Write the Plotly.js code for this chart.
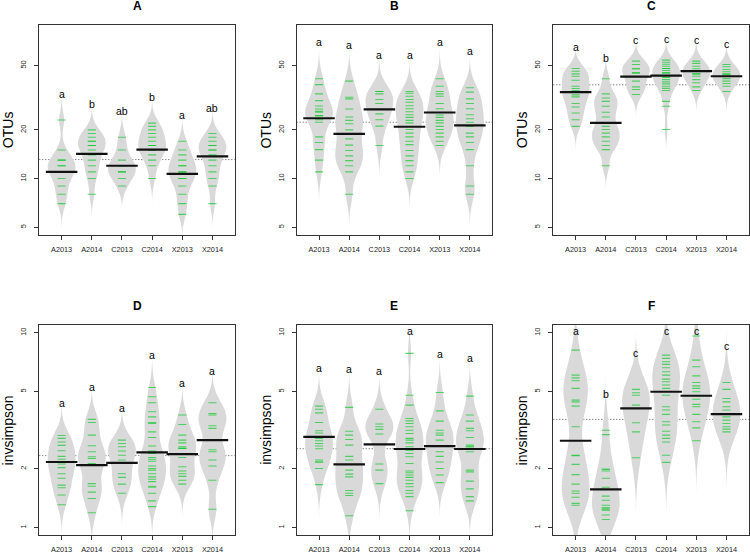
<!DOCTYPE html>
<html>
<head>
<meta charset="utf-8">
<script src="https://cdn.plot.ly/plotly-3.0.1.min.js"></script>
<style>html,body{margin:0;padding:0;background:#fff;}#chart{width:750px;height:553px;}</style>
</head>
<body>
<div id="chart"></div>
<script>
// ---------------- DATA ----------------
const categories = ["A2013", "A2014", "C2013", "C2014", "X2013", "X2014"];

// Panel A (OTUs)
const otusA = [
  [7, 8, 9, 10, 11, 11, 12, 12, 13, 13, 15, 23],
  [8, 10, 11, 12, 13, 14, 15, 16, 16, 17, 17, 18, 19, 20],
  [9, 10, 11, 11, 12, 12, 13, 15, 18],
  [10, 12, 13, 14, 15, 15, 16, 16, 17, 18, 19, 20, 21, 22],
  [6, 7, 8, 9, 10, 10, 11, 11, 12, 12, 13, 14, 15, 17],
  [7, 9, 10, 11, 12, 13, 14, 15, 15, 16, 16, 17, 18, 19]
];
const meansA = [11.0, 14.2, 12.0, 15.1, 10.7, 13.7];
const overallA = 13.1;
const lettersA = ["a", "b", "ab", "b", "a", "ab"];

// Panel B (OTUs)
const otusB = [
  [41.4, 38.1, 33.4, 30.3, 28.1, 26.9, 26.0, 25.7, 24.5, 24.5, 23.1, 22.3, 18.1, 16.7, 15.1, 13.0, 11.0],
  [40.0, 31.8, 31.1, 26.9, 24.0, 22.9, 21.8, 20.0, 17.6, 16.1, 14.9, 13.8, 12.9, 12.0, 11.0, 8.0],
  [34.5, 34.5, 33.4, 30.8, 29.1, 26.8, 25.1, 23.1, 21.1, 16.0],
  [34.5, 33.7, 32.3, 30.8, 29.6, 28.2, 27.0, 25.9, 24.8, 23.9, 22.9, 22.1, 20.1, 19.1, 18.1, 17.0, 16.2, 14.9, 13.8, 12.9, 12.0, 11.0, 10.0],
  [41.4, 37.2, 34.5, 33.4, 32.3, 29.1, 27.0, 25.6, 24.7, 23.9, 22.9, 22.1, 21.0, 20.1, 19.1, 18.1, 17.0, 16.0],
  [36.4, 34.2, 31.1, 29.1, 27.0, 24.8, 23.4, 22.3, 21.0, 19.1, 18.1, 16.7, 15.1, 12.0, 9.0, 8.0]
];
const meansB = [23.6, 18.9, 26.8, 20.9, 25.6, 21.3];
const overallB = 22.3;
const lettersB = ["a", "a", "a", "a", "a", "a"];

// Panel C (OTUs)
const otusC = [
  [47.9, 46.1, 44.4, 42.9, 40.5, 37.2, 36.0, 35.0, 32.9, 32.0, 29.1, 27.7, 25.4, 23.1, 21.0],
  [41.4, 33.4, 31.5, 30.0, 28.0, 25.7, 24.0, 21.0, 20.1, 19.1, 18.1, 17.0, 16.0, 15.1, 12.0],
  [53.2, 50.7, 47.7, 47.7, 45.0, 45.0, 40.0, 36.9, 35.5, 33.1],
  [54.0, 52.4, 50.9, 49.5, 47.9, 47.9, 46.6, 45.0, 45.0, 42.3, 42.3, 40.9, 39.6, 38.5, 37.2, 36.1, 35.0, 30.0, 28.0, 20.1],
  [53.2, 51.5, 49.5, 47.7, 46.1, 46.1, 44.4, 44.4, 42.9, 40.9, 39.1, 36.9, 35.0],
  [50.7, 49.1, 47.2, 45.7, 44.2, 44.2, 42.9, 42.9, 41.5, 40.0, 38.7, 37.2, 34.5]
];
const meansC = [34.2, 22.1, 42.7, 43.3, 46.1, 42.9];
const overallC = 38.0;
const lettersC = ["a", "b", "c", "c", "c", "c"];

// Panel D (invsimpson)
const invD = [
  [2.97, 2.87, 2.75, 2.64, 2.48, 2.32, 2.24, 2.17, 2.12, 2.03, 1.89, 1.79, 1.65, 1.60, 1.47, 1.31],
  [3.59, 3.46, 2.98, 2.63, 2.45, 2.31, 2.26, 2.13, 2.09, 1.68, 1.63, 1.52, 1.41, 1.19],
  [2.81, 2.70, 2.60, 2.47, 2.35, 2.22, 1.89, 1.81, 1.67, 1.50],
  [5.24, 4.69, 4.37, 3.93, 3.70, 3.46, 3.42, 3.10, 2.90, 2.62, 2.47, 2.40, 2.29, 2.24, 2.19, 2.07, 2.01, 1.97, 1.89, 1.82, 1.77, 1.72, 1.63, 1.61, 1.50, 1.37, 1.28],
  [3.78, 3.38, 2.98, 2.81, 2.72, 2.60, 2.55, 2.55, 2.29, 2.05, 1.95, 1.89, 1.83, 1.75, 1.67],
  [4.37, 3.85, 3.78, 3.33, 3.23, 2.51, 2.45, 2.22, 2.07, 1.75, 1.24]
];
const meansD = [2.17, 2.09, 2.15, 2.43, 2.38, 2.81];
const overallD = 2.34;
const lettersD = ["a", "a", "a", "a", "a", "a"];

// Panel E (invsimpson)
const invE = [
  [4.20, 4.05, 3.88, 3.46, 3.14, 3.06, 2.87, 2.79, 2.70, 2.62, 2.54, 2.22, 2.17, 2.17, 2.01, 1.66],
  [4.14, 3.12, 2.98, 2.83, 2.65, 2.32, 2.22, 1.97, 1.88, 1.82, 1.55, 1.50, 1.46, 1.15],
  [4.05, 3.40, 3.29, 3.19, 3.02, 2.12, 1.97, 1.68],
  [7.84, 4.78, 4.25, 3.63, 3.53, 3.42, 3.29, 3.16, 3.04, 2.87, 2.81, 2.72, 2.60, 2.50, 2.50, 2.40, 2.31, 2.13, 1.95, 1.91, 1.86, 1.81, 1.75, 1.68, 1.62, 1.55, 1.50, 1.44, 1.22],
  [4.94, 3.97, 3.52, 3.16, 3.06, 2.98, 2.81, 2.62, 2.45, 2.32, 2.17, 2.01, 1.86, 1.70],
  [4.73, 3.78, 3.52, 3.23, 3.14, 2.90, 2.65, 2.60, 2.60, 2.45, 1.97, 1.93, 1.73, 1.58, 1.44, 1.37]
];
const meansE = [2.92, 2.11, 2.67, 2.53, 2.62, 2.53];
const overallE = 2.54;
const lettersE = ["a", "a", "a", "a", "a", "a"];

// Panel F (invsimpson)
const invF = [
  [8.15, 6.06, 5.87, 5.67, 5.18, 4.51, 4.42, 4.20, 3.29, 2.35, 2.34, 2.11, 1.87, 1.67, 1.54, 1.50, 1.43, 1.33, 1.30],
  [3.16, 3.00, 1.99, 1.99, 1.95, 1.79, 1.61, 1.45, 1.38, 1.30, 1.26, 1.26, 1.23, 1.23, 1.16, 1.10],
  [5.12, 4.92, 4.78, 4.25, 3.45, 3.10, 2.28],
  [7.68, 7.39, 7.10, 6.88, 6.61, 6.31, 6.06, 5.78, 5.60, 5.39, 5.18, 4.78, 4.17, 4.01, 3.81, 3.49, 3.36, 3.12, 2.98, 2.87, 2.75, 2.35, 2.16],
  [9.62, 7.24, 6.69, 6.01, 5.56, 5.34, 5.18, 4.98, 4.75, 4.56, 4.29, 4.17, 3.81, 3.49, 3.25, 2.79],
  [5.56, 5.12, 4.60, 4.42, 4.17, 4.01, 3.82, 3.70, 3.56, 3.42, 3.29, 3.20, 3.10]
];
const meansF = [2.79, 1.57, 4.09, 4.98, 4.75, 3.82];
const overallF = 3.59;
const lettersF = ["a", "b", "c", "c", "c", "c"];

const otuTicks = [5, 10, 20, 50];
const otuLimits = [5, 80];
const invTicks = [1, 2, 5, 10];
const invLimits = [1, 10];
const panelTitles = ["A", "B", "C", "D", "E", "F"];
const yTitles = ["OTUs", "invsimpson"];

// ---------------- BUILD ----------------
const FONT = "Liberation Sans, Arial, Helvetica, sans-serif";
const L = Math.log10;
const W = 750, H = 553;

const panels = [
  {data: otusA, means: meansA, overall: overallA, letters: lettersA, ticks: otuTicks, lim: otuLimits, ytitle: yTitles[0]},
  {data: otusB, means: meansB, overall: overallB, letters: lettersB, ticks: otuTicks, lim: otuLimits, ytitle: yTitles[0]},
  {data: otusC, means: meansC, overall: overallC, letters: lettersC, ticks: otuTicks, lim: otuLimits, ytitle: yTitles[0]},
  {data: invD, means: meansD, overall: overallD, letters: lettersD, ticks: invTicks, lim: invLimits, ytitle: yTitles[1]},
  {data: invE, means: meansE, overall: overallE, letters: lettersE, ticks: invTicks, lim: invLimits, ytitle: yTitles[1]},
  {data: invF, means: meansF, overall: overallF, letters: lettersF, ticks: invTicks, lim: invLimits, ytitle: yTitles[1]}
];

// layout constants (pixel boxes of plot regions, letter offsets in log units)
const colLeft = [39.3, 296.7, 553.3];
const boxW = 195.5;
const rowTop = [24.7, 325];
const boxH = 210.3;
const letterOffset = [0.16, 0.225, 0.13, 0.165, 0.195, 0.185];

function quantile(sorted, p) {
  const pos = (sorted.length - 1) * p;
  const lo = Math.floor(pos), hi = Math.ceil(pos);
  return sorted[lo] + (sorted[hi] - sorted[lo]) * (pos - lo);
}
function bandwidth(vals) {
  const n = vals.length;
  const m = vals.reduce((a, b) => a + b, 0) / n;
  const sd = Math.sqrt(vals.reduce((a, b) => a + (b - m) * (b - m), 0) / (n - 1));
  const s = vals.slice().sort((a, b) => a - b);
  const iqr = quantile(s, 0.75) - quantile(s, 0.25);
  return 1.0 * Math.min(sd, iqr / 1.349) * Math.pow(n, -0.2);
}

const GREEN = "rgba(10,200,40,0.68)";
const BEAN = "#d9d9d9";

const traces = [];
const shapes = [];
const annotations = [];
const layout = {
  width: W, height: H,
  margin: {l: 0, r: 0, t: 0, b: 0},
  paper_bgcolor: "#fff", plot_bgcolor: "#fff",
  showlegend: false,
  font: {family: FONT, color: "#000"},
  violinmode: "overlay"
};

panels.forEach((p, i) => {
  const s = i === 0 ? "" : String(i + 1);
  const col = i % 3, row = Math.floor(i / 3);
  const x0 = colLeft[col], y0 = rowTop[row];
  const lo = L(p.lim[0]), hi = L(p.lim[1]);
  const pad = (hi - lo) * 0.04;
  const yr = [lo - pad, hi + pad];

  layout["xaxis" + s] = {
    domain: [x0 / W, (x0 + boxW) / W],
    anchor: "y" + s,
    type: "category",
    categoryarray: categories,
    range: [-0.74, 5.74],
    showline: true, mirror: true, linecolor: "#333", linewidth: 1,
    ticks: "outside", ticklen: 4, tickcolor: "#333", tickwidth: 1,
    tickfont: {size: 7.3, family: FONT, color: "#222"},
    ticklabelstandoff: 3,
    showgrid: false, zeroline: false, fixedrange: true
  };
  layout["yaxis" + s] = {
    domain: [1 - (y0 + boxH) / H, 1 - y0 / H],
    anchor: "x" + s,
    range: yr,
    tickvals: p.ticks.map(L),
    ticktext: p.ticks.map(String),
    tickangle: -90,
    showline: true, mirror: true, linecolor: "#333", linewidth: 1,
    ticks: "outside", ticklen: 4, tickcolor: "#333", tickwidth: 1,
    tickfont: {size: 7.5, family: FONT, color: "#222"},
    ticklabelstandoff: 5,
    showgrid: false, zeroline: false, fixedrange: true
  };

  const pooled = [].concat(...p.data).map(L);
  const bw = bandwidth(pooled);

  // beans
  p.data.forEach((vals, j) => {
    const lv = vals.map(L);
    const mn = Math.min(...lv), mx = Math.max(...lv);
    traces.push({
      type: "violin",
      x: lv.map(() => categories[j]),
      y: lv,
      xaxis: "x" + s, yaxis: "y" + s,
      scalegroup: "panel" + i, scalemode: "width",
      width: 0.92,
      bandwidth: bw,
      spanmode: "manual", span: [mn - 3 * bw, mx + 3 * bw],
      fillcolor: BEAN,
      line: {width: 0, color: BEAN},
      points: false,
      box: {visible: false}, meanline: {visible: false},
      hoverinfo: "skip", showlegend: false
    });
    // letter above bean
    let ly = mx + letterOffset[i];
    ly = Math.min(ly, yr[1] - 0.03 * (yr[1] - yr[0]));
    annotations.push({
      xref: "x" + s, yref: "y" + s, x: categories[j], y: ly,
      text: p.letters[j], showarrow: false,
      font: {size: 10.5, family: FONT, color: "#000"},
      xanchor: "center", yanchor: "middle"
    });
  });

  // individual observation lines
  const xs = [], ys = [];
  p.data.forEach((vals, j) => vals.forEach(v => { xs.push(categories[j]); ys.push(L(v)); }));
  traces.push({
    type: "scatter", mode: "markers",
    x: xs, y: ys, xaxis: "x" + s, yaxis: "y" + s,
    marker: {symbol: "line-ew", size: 5.8, color: GREEN,
             line: {width: 1.1, color: GREEN}},
    hoverinfo: "skip", showlegend: false
  });
  // bean mean lines
  traces.push({
    type: "scatter", mode: "markers",
    x: categories, y: p.means.map(L), xaxis: "x" + s, yaxis: "y" + s,
    marker: {symbol: "line-ew", size: 22.5, color: "#111",
             line: {width: 2.2, color: "#111"}},
    hoverinfo: "skip", showlegend: false
  });
  // overall mean dotted line
  shapes.push({
    type: "line", layer: "below",
    xref: "x" + s + " domain", x0: 0, x1: 1,
    yref: "y" + s, y0: L(p.overall), y1: L(p.overall),
    line: {color: "#555", width: 1, dash: "1px,2px"}
  });
  // panel title
  annotations.push({
    xref: "paper", yref: "paper",
    x: (x0 + boxW / 2) / W, y: 1 - (y0 - 19) / H,
    text: "<b>" + panelTitles[i] + "</b>", showarrow: false,
    font: {size: 12, family: FONT, color: "#000"},
    xanchor: "center", yanchor: "middle"
  });
  // y axis title
  annotations.push({
    xref: "paper", yref: "paper",
    x: (x0 - 31) / W, y: 1 - (y0 + boxH / 2) / H,
    text: p.ytitle, textangle: -90, showarrow: false,
    font: {size: 14, family: FONT, color: "#000"},
    xanchor: "center", yanchor: "middle"
  });
});

layout.shapes = shapes;
layout.annotations = annotations;

Plotly.newPlot("chart", traces, layout, {staticPlot: true, displayModeBar: false});
</script>
</body>
</html>
